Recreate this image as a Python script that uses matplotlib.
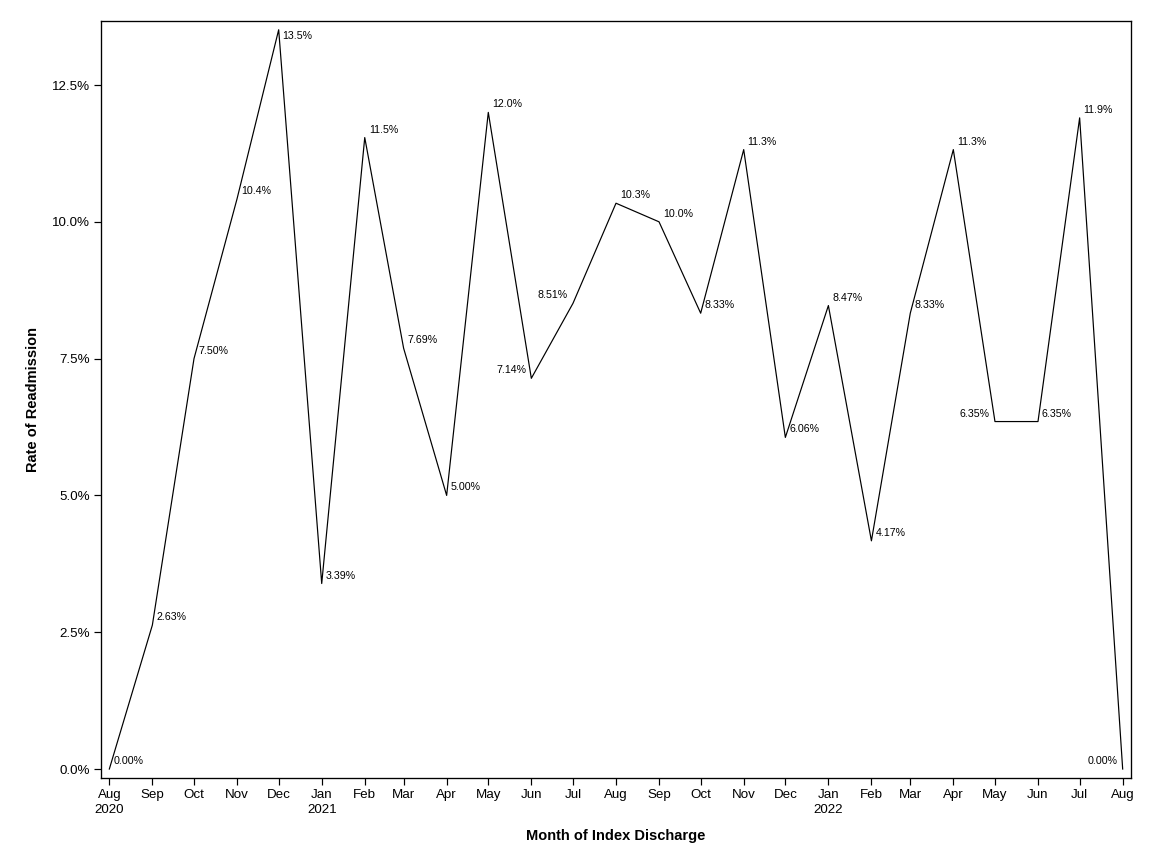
import datetime as dt

import matplotlib
matplotlib.use("Agg")
import matplotlib.pyplot as plt
from matplotlib.ticker import FuncFormatter

# ─── data ─────────────────────────────────────────────
months = [dt.date(2020, 8, 1)]
for _ in range(24):
    d = months[-1]
    months.append(dt.date(d.year + (d.month == 12), d.month % 12 + 1, 1))

rates = [0.00, 2.63, 7.50, 10.42, 13.51, 3.39, 11.54, 7.69, 5.00, 12.00,
         7.14, 8.51, 10.34, 10.00, 8.33, 11.32, 6.06, 8.47, 4.17, 8.33,
         11.32, 6.35, 6.35, 11.90, 0.00]

# label side for each point: r = right/up, l = left/up, d = right/down
label_side = ["r", "r", "r", "r", "d", "r", "r", "r", "r", "r",
              "l", "l", "r", "r", "r", "r", "r", "r", "r", "r",
              "r", "l", "r", "r", "l"]


def fmt_label(v):
    return f"{v:.1f}%" if v >= 10 else f"{v:.2f}%"


plt.rcParams["font.family"] = ["Liberation Sans", "DejaVu Sans"]

fig = plt.figure(figsize=(12, 9), dpi=96)
ax = fig.add_axes([101 / 1152, 1 - 778 / 864, 1030 / 1152, 757 / 864])

ax.plot(months, rates, color="black", lw=0.9)

for m, v, side in zip(months, rates, label_side):
    if side == "l":
        off, ha = (-4, 6), "right"
    elif side == "d":
        off, ha = (3, -5), "left"
    else:
        off, ha = (3, 6), "left"
    ax.annotate(fmt_label(v), (m, v), xytext=off, textcoords="offset points",
                ha=ha, va="center", fontsize=8)

ax.set_xlim(months[0] - dt.timedelta(days=6), months[-1] + dt.timedelta(days=6.5))
ax.set_ylim(-0.164, 13.67)

ax.set_xticks(months)
xlabels = []
for m in months:
    s = m.strftime("%b")
    if m.month == 1 or m == months[0]:
        s += f"\n{m.year}"
    xlabels.append(s)
ax.set_xticklabels(xlabels, linespacing=1.35)

ax.set_yticks([0, 2.5, 5, 7.5, 10, 12.5])
ax.yaxis.set_major_formatter(FuncFormatter(lambda v, _: f"{v:.1f}%"))
ax.tick_params(axis="both", labelsize=10, length=5, width=0.9, direction="out")
ax.tick_params(axis="x", pad=3)

for sp in ax.spines.values():
    sp.set_linewidth(1.0)

ax.set_xlabel("Month of Index Discharge", fontsize=11, fontweight="bold", labelpad=10)
ax.set_ylabel("Rate of Readmission", fontsize=11, fontweight="bold", labelpad=9)

fig.savefig("out.png", dpi=96)
